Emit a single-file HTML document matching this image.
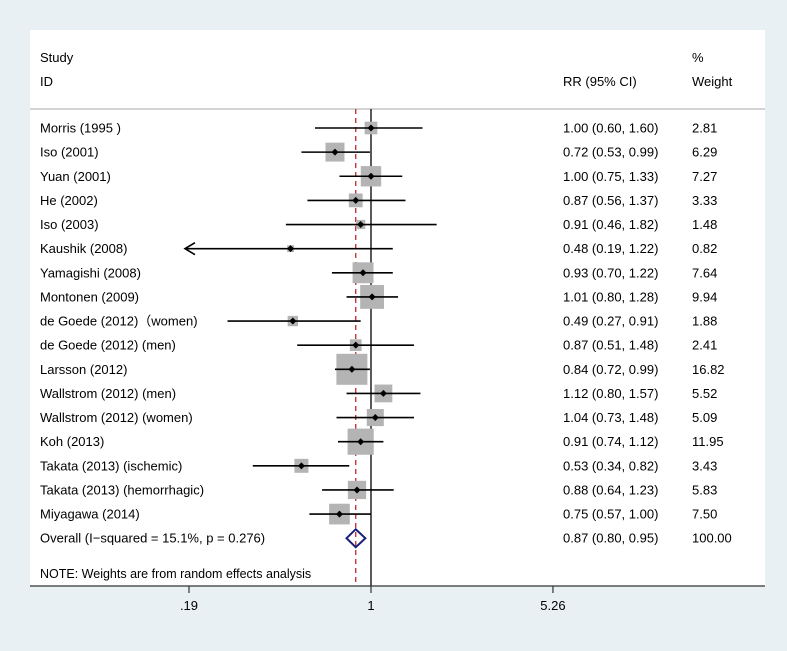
<!DOCTYPE html>
<html><head><meta charset="utf-8"><style>
body{margin:0;background:#e9f0f3;}
svg{display:block;font-family:"Liberation Sans",sans-serif;}
</style></head><body>
<svg id="c" width="787" height="651">
<rect x="0" y="0" width="787" height="651" fill="#e9f0f3"/>
<rect x="30" y="30" width="735" height="556" fill="#fff"/>
<text x="40" y="62" font-size="13">Study</text>
<text x="40" y="86" font-size="13">ID</text>
<text x="563" y="86" font-size="13">RR (95% CI)</text>
<text x="692" y="62" font-size="13">%</text>
<text x="692" y="86" font-size="13">Weight</text>
<line x1="30" y1="109" x2="765" y2="109" stroke="#aaa" stroke-width="1"/>
<g id="marks"></g>
<text x="40" y="578" font-size="12.5">NOTE: Weights are from random effects analysis</text>
</svg>
<script>
const studies=["Morris (1995 )","Iso (2001)","Yuan (2001)","He (2002)","Iso (2003)","Kaushik (2008)","Yamagishi (2008)","Montonen (2009)","de Goede (2012)（women)","de Goede (2012) (men)","Larsson (2012)","Wallstrom (2012) (men)","Wallstrom (2012) (women)","Koh (2013)","Takata (2013) (ischemic)","Takata (2013) (hemorrhagic)","Miyagawa (2014)"];
const rr=[1.00,0.72,1.00,0.87,0.91,0.48,0.93,1.01,0.49,0.87,0.84,1.12,1.04,0.91,0.53,0.88,0.75];
const lo=[0.60,0.53,0.75,0.56,0.46,0.19,0.70,0.80,0.27,0.51,0.72,0.80,0.73,0.74,0.34,0.64,0.57];
const hi=[1.60,0.99,1.33,1.37,1.82,1.22,1.22,1.28,0.91,1.48,0.99,1.57,1.48,1.12,0.82,1.23,1.00];
const weights=[2.81,6.29,7.27,3.33,1.48,0.82,7.64,9.94,1.88,2.41,16.82,5.52,5.09,11.95,3.43,5.83,7.50];
const overall=[0.87,0.80,0.95];
const overallLabel="Overall  (I−squared = 15.1%, p = 0.276)";
const tickVals=[0.19,1,5.26];
const tickLabels=[".19","1","5.26"];
const NS="http://www.w3.org/2000/svg";
const X=v=>371+109.6*Math.log(v);
const Y=i=>128+24.13*i;
const svg=document.getElementById('c'),g=document.getElementById('marks');
function mk(t,a,txt){const e=document.createElementNS(NS,t);for(const k in a)e.setAttribute(k,a[k]);if(txt!==undefined)e.textContent=txt;g.appendChild(e);return e;}
const fmt=v=>v.toFixed(2);
let e;
e=mk('line',{x1:X(1),y1:109,x2:X(1),y2:586,stroke:'#000','stroke-width':1.3});


e=mk('line',{x1:X(overall[0]),y1:109,x2:X(overall[0]),y2:586,stroke:'#c0282d','stroke-width':1.3,'stroke-dasharray':'5,4'});


studies.forEach((s,i)=>{
 const y=Y(i);
 const side=7.56*Math.sqrt(weights[i]);
 e=mk('rect',{x:X(rr[i])-side/2,y:y-side/2,width:side,height:side,fill:'#b4b4b4'});
 
 
 const x1=lo[i]<=0.19?X(0.19)-4:X(lo[i]);
 e=mk('line',{x1:x1,y1:y,x2:X(hi[i]),y2:y,stroke:'#000','stroke-width':1.6});
 
 
 if(lo[i]<=0.19){
  e=mk('polyline',{points:`${x1+10},${y-6} ${x1},${y} ${x1+10},${y+6}`,fill:'none',stroke:'#000','stroke-width':1.6});
  
  
 }
 e=mk('path',{d:`M${X(rr[i])-3.5},${y}L${X(rr[i])},${y-3.5}L${X(rr[i])+3.5},${y}L${X(rr[i])},${y+3.5}Z`,fill:'#000'});
 
 
 e=mk('text',{x:40,y:y+4.5,'font-size':13},s);
 
 
 e=mk('text',{x:563,y:y+4.5,'font-size':13},`${fmt(rr[i])} (${fmt(lo[i])}, ${fmt(hi[i])})`);
 
 
 e=mk('text',{x:692,y:y+4.5,'font-size':13},fmt(weights[i]));
 
 
});
const oy=Y(studies.length);
e=mk('path',{d:`M${X(overall[1])},${oy}L${X(overall[0])},${oy-9}L${X(overall[2])},${oy}L${X(overall[0])},${oy+9}Z`,fill:'none',stroke:'#1a1f7a','stroke-width':2});


e=mk('text',{x:40,y:oy+4.5,'font-size':13},overallLabel);


e=mk('text',{x:563,y:oy+4.5,'font-size':13},`${fmt(overall[0])} (${fmt(overall[1])}, ${fmt(overall[2])})`);


e=mk('text',{x:692,y:oy+4.5,'font-size':13},"100.00");


e=mk('line',{x1:30,y1:586,x2:765,y2:586,stroke:'#333','stroke-width':1.3});


tickVals.forEach((v,i)=>{
 e=mk('line',{x1:X(v),y1:586,x2:X(v),y2:593,stroke:'#333','stroke-width':1.2});
 
 
 e=mk('text',{x:X(v),y:610,'font-size':13,'text-anchor':'middle'},tickLabels[i]);
 
 
});
</script>
</body></html>
